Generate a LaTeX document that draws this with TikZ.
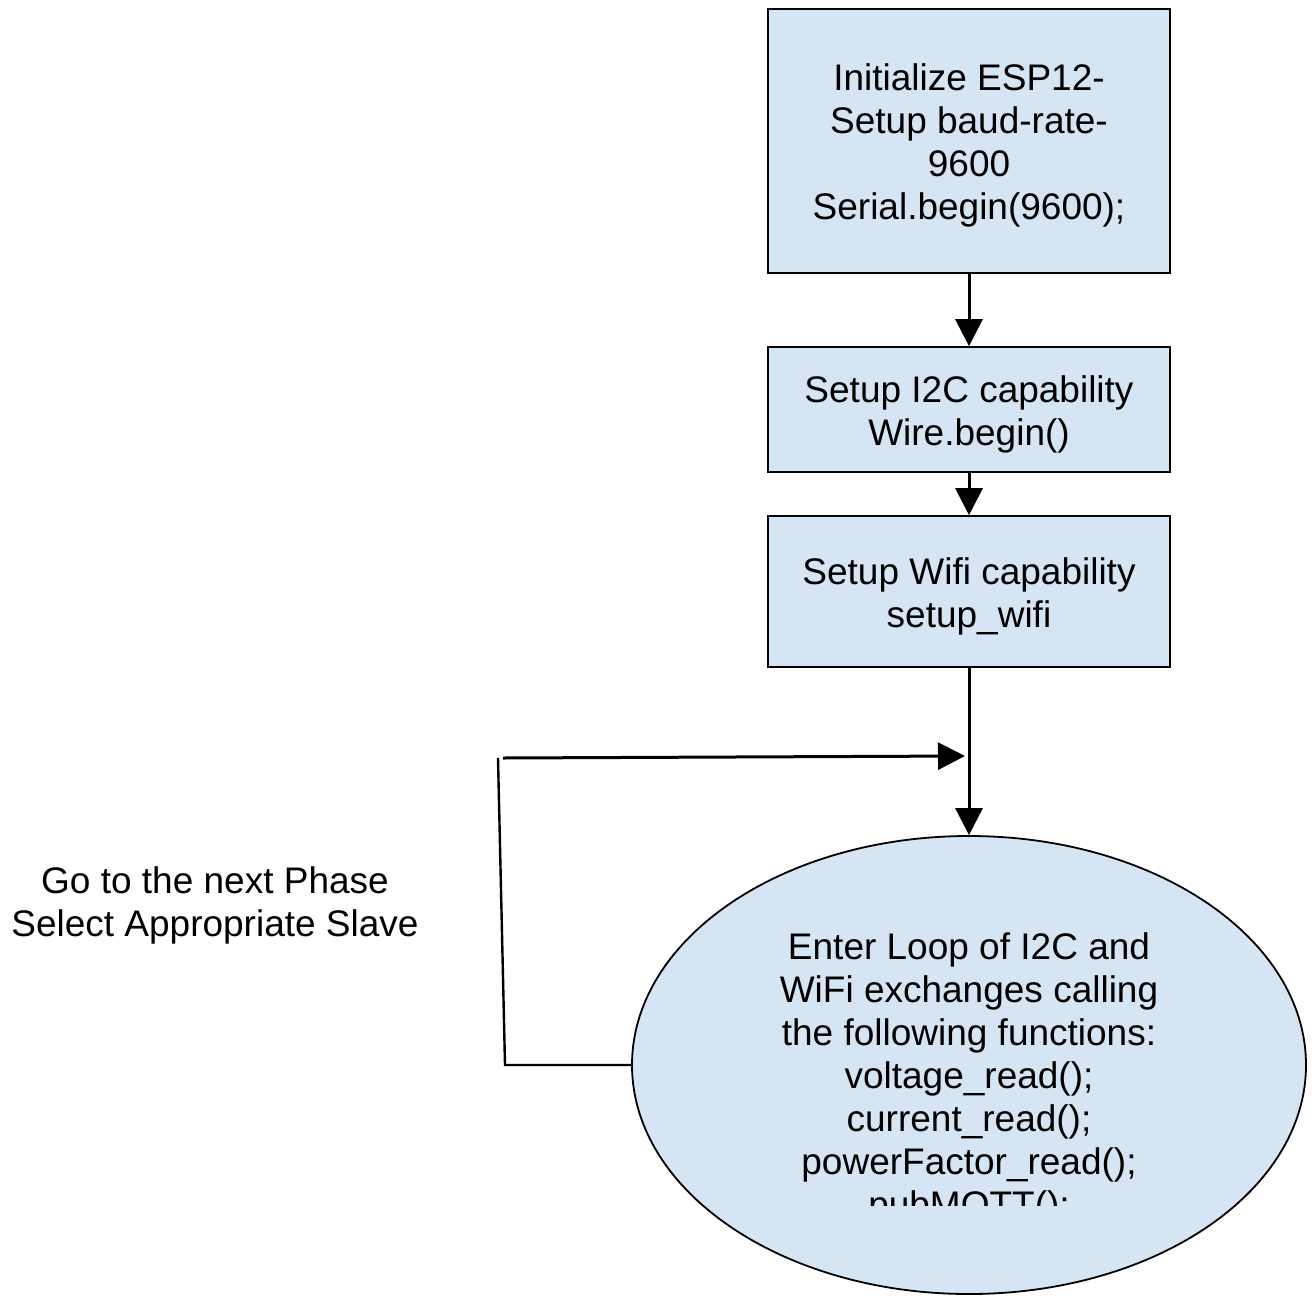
\documentclass[tikz,border=0pt]{standalone}
\usepackage{fontspec}
\setmainfont{Liberation Sans}
\usetikzlibrary{arrows.meta,shapes.geometric}
\definecolor{boxfill}{RGB}{214,229,244}
\begin{document}
\begin{tikzpicture}[x=1pt,y=-1pt,
  every node/.style={font=\fontsize{37}{43}\selectfont, align=center, inner sep=0pt},
  stepbox/.style={draw, line width=1.6pt, fill=boxfill, minimum width=402pt},
  loopshape/.style={draw, ellipse, line width=1.8pt, fill=boxfill},
  flow/.style={line width=3pt, -{Triangle[length=27pt,width=27pt]}},
  plain/.style={line width=2.4pt}]
\useasboundingbox (0,0) rectangle (1316,1295);

% processing steps (frames, then their text)
\node[stepbox, minimum height=264pt] (init) at (969,141) {};
\node[stepbox, minimum height=125pt] (i2c) at (969,409.5) {};
\node[stepbox, minimum height=151pt] (wifi) at (969,591.5) {};
\node (inittext) at (969,145)
  {Initialize ESP12-\\Setup baud-rate-\\9600\\Serial.begin(9600);};
\node (i2ctext) at (969,414) {Setup I2C capability\\Wire.begin()};
\node (wifitext) at (969,596) {Setup Wifi capability\\setup\_wifi};

% main loop
\node[loopshape, minimum width=674pt, minimum height=458pt] (loop) at (969,1065) {};
\begin{scope}
  \clip (632,836) rectangle (1306,1205);
  \node (looptext) at (969,1079)
    {Enter Loop of I2C and\\WiFi exchanges calling\\the following functions:\\voltage\_read();\\current\_read();\\powerFactor\_read();\\pubMQTT();};
\end{scope}

% return path label
\node (note) at (215,905) {Go to the next Phase\\Select Appropriate Slave};

% connectors
\coordinate (ret1) at (505,1065);
\coordinate (ret2) at (498,758);
\coordinate (ret3) at (503,758);
\coordinate (ret4) at (965,756);

\draw[flow] (init.south) -- (i2c.north);
\draw[flow] (i2c.south) -- (wifi.north);
\draw[flow] (wifi.south) -- (loop.north);
\draw[plain] (loop.west) -- (ret1) -- (ret2);
\draw[flow] (ret3) -- (ret4);
\end{tikzpicture}
\end{document}
